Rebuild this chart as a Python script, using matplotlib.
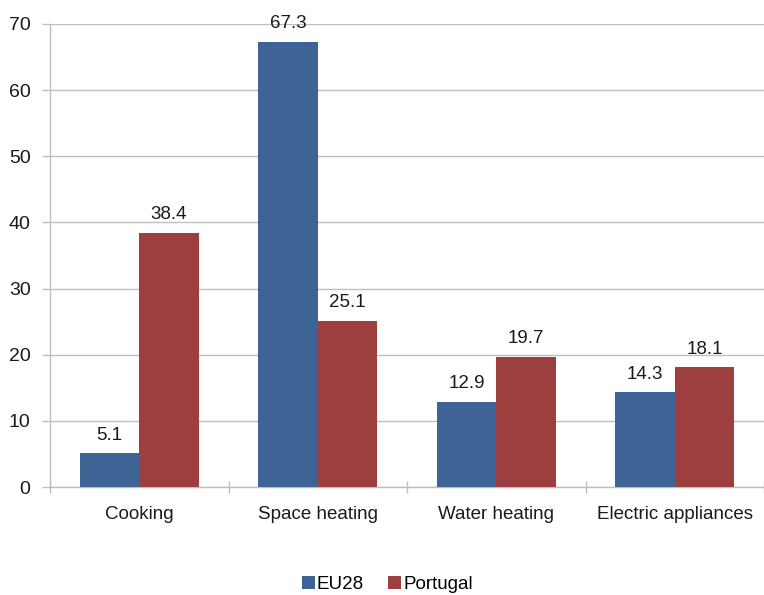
import numpy as np
import matplotlib.pyplot as plt

plt.rcParams['font.family'] = ['Liberation Sans', 'DejaVu Sans']

# Share of household energy use by purpose (%)
categories = ['Cooking', 'Space heating', 'Water heating', 'Electric appliances']
eu28 = [5.1, 67.3, 12.9, 14.3]
portugal = [38.4, 25.1, 19.7, 18.1]

blue = '#3E6496'
red = '#9C3F3E'
grey = '#BFBFBF'
txt = '#1A1A1A'

fig = plt.figure(figsize=(7.64, 5.95), dpi=100)
ax = fig.add_axes([50 / 764, 1 - 487 / 595, 1 - 50 / 764, (487 - 24) / 595])

x = np.arange(len(categories))
w = 1 / 3
b1 = ax.bar(x - w / 2, eu28, w, color=blue, label='EU28', zorder=3)
b2 = ax.bar(x + w / 2, portugal, w, color=red, label='Portugal', zorder=3)

for bars, vals in ((b1, eu28), (b2, portugal)):
    for rect, v in zip(bars, vals):
        ax.annotate(f'{v:.1f}', (rect.get_x() + rect.get_width() / 2, v),
                    xytext=(0, 7), textcoords='offset points',
                    ha='center', va='bottom', fontsize=13.5, color=txt)

ax.set_ylim(0, 70)
ax.set_yticks(range(0, 71, 10))
ax.set_xlim(-0.5, -0.5 + 714 / 180.5)
ax.yaxis.grid(True, color=grey, lw=1, zorder=0)
ax.set_xticks(x)
ax.set_xticklabels(categories)
ax.set_xticks(np.arange(len(categories) + 1) - 0.5, minor=True)

ax.tick_params(axis='x', which='major', length=0, pad=14, labelsize=13.5, labelcolor=txt)
ax.tick_params(axis='x', which='minor', length=9, direction='inout', color=grey, width=1)
ax.tick_params(axis='y', length=6, color=grey, width=1, labelsize=14, labelcolor=txt, pad=8)

for s in ('top', 'right'):
    ax.spines[s].set_visible(False)
for s in ('left', 'bottom'):
    ax.spines[s].set_color(grey)
    ax.spines[s].set_linewidth(1)

fig.legend(loc='center', bbox_to_anchor=(0.507, 0.018), ncol=2, frameon=False,
           fontsize=13.5, handlelength=0.7, handleheight=0.7, handletextpad=0.1,
           columnspacing=1.3, borderaxespad=0)

fig.savefig('out.png', dpi=100)
